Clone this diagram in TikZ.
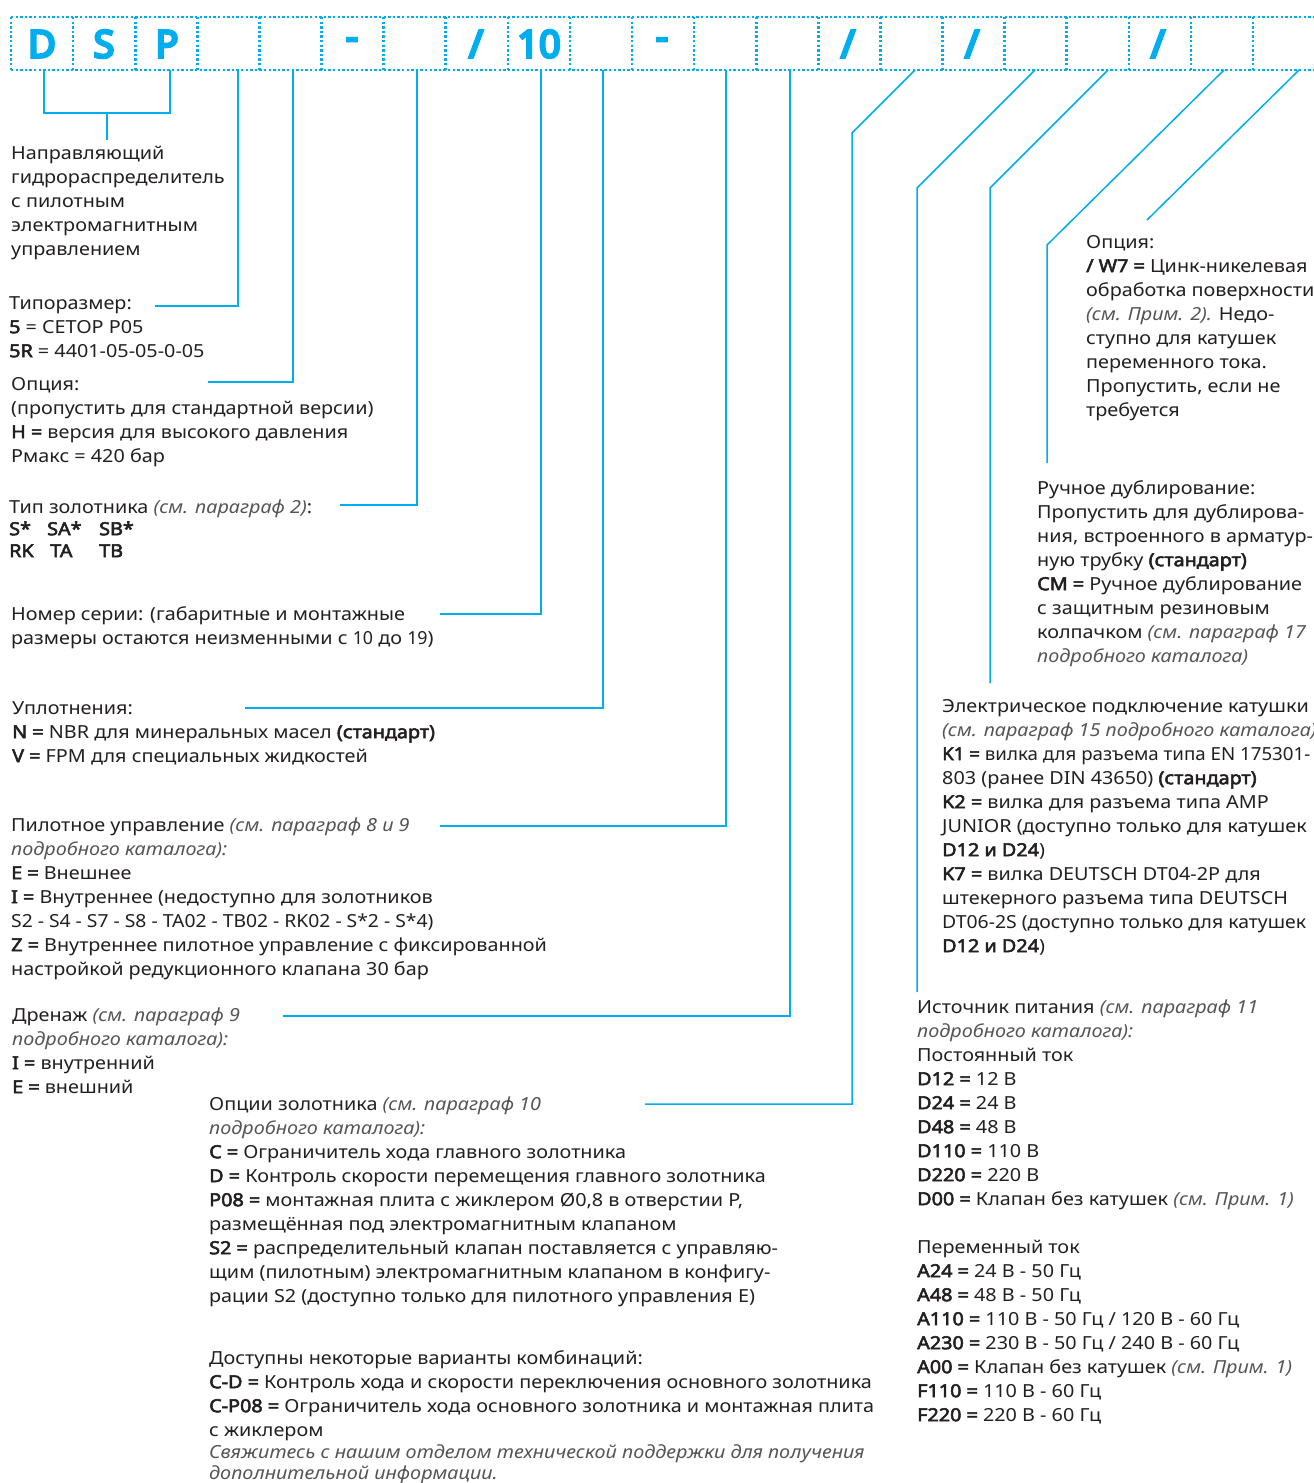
\documentclass[tikz,border=0pt]{standalone}
\usepackage{graphicx}
\usepackage{fontspec}
\setmainfont{Noto Sans}[FakeStretch=1.1, AutoFakeBold=3]
\newfontfamily\hdrfont{Noto Sans}[FakeBold=7]
\definecolor{cy}{HTML}{00AEEF}
\definecolor{tx}{HTML}{231F20}
\definecolor{itc}{HTML}{555555}
\newcommand\myb[1]{\textbf{#1}}
\newcommand\myi[1]{{\color{itc}\itshape #1}}
\newcommand\fst{\rule{0pt}{16pt}}
\tikzset{
  conn/.style={draw=cy, line width=1.5pt},
  dotl/.style={draw=cy, line width=2.6pt, dash pattern=on 2.4pt off 2.2pt},
  hdr/.style={text=cy, font=\hdrfont\fontsize{38}{40}\selectfont, inner sep=0},
  txt/.style={anchor=north west, inner sep=0, align=left, text=tx, font=\fontsize{18}{24}\selectfont},
}
\begin{document}
\begin{tikzpicture}[x=1pt,y=-1pt]
\useasboundingbox (0,0) rectangle (1314,1483);
% header dotted boxes
\draw[dotl] (11,17) -- (1314,17);
\draw[dotl] (11,70) -- (1314,70);
\foreach \k in {0,...,20} \draw[dotl] ({11+62.1*\k},17) -- ({11+62.1*\k},70);
% header characters
\node[hdr] (hD) at (42,44) {D};
\node[hdr] (hS) at (104,44) {S};
\node[hdr] (hP) at (167,44) {P};
\node[hdr] (hd1) at (352,44) {-};
\node[hdr] (hs1) at (476,44) {/};
\node[hdr] (h10) at (539,44) {10};
\node[hdr] (hd2) at (662,44) {-};
\node[hdr] (hs2) at (848,44) {/};
\node[hdr] (hs3) at (972,44) {/};
\node[hdr] (hs4) at (1158,44) {/};
% connector coordinates
\coordinate (cD) at (44,70);
\coordinate (cP) at (170,70);
\coordinate (br) at (107,113);
\coordinate (brE) at (107,140);
\coordinate (t3) at (238,70);  \coordinate (e3) at (155,306);
\coordinate (t4) at (293,70);  \coordinate (e4) at (208,382);
\coordinate (t6) at (417,70);  \coordinate (e6) at (340,505);
\coordinate (t8) at (541,70);  \coordinate (e8) at (440,614);
\coordinate (t9) at (603,70);  \coordinate (e9) at (245,708);
\coordinate (t11) at (726,70); \coordinate (e11) at (440,826);
\coordinate (t12) at (790,70); \coordinate (e12) at (283,1016);
\coordinate (t14) at (915,70); \coordinate (k14) at (852,133); \coordinate (e14) at (645,1104);
\coordinate (t16) at (1035,70); \coordinate (k16) at (917,188); \coordinate (e16) at (917,992);
\coordinate (t17) at (1108,70); \coordinate (k17) at (990,188); \coordinate (e17) at (990,683);
\coordinate (t19) at (1224,70); \coordinate (k19) at (1047,245); \coordinate (e19) at (1047,463);
\coordinate (t20) at (1299,70); \coordinate (e20) at (1147,220);
% connectors
\draw[conn] (cD) |- (br) -| (cP);
\draw[conn] (br) -- (brE);
\draw[conn] (t3) |- (e3);
\draw[conn] (t4) |- (e4);
\draw[conn] (t6) |- (e6);
\draw[conn] (t8) |- (e8);
\draw[conn] (t9) |- (e9);
\draw[conn] (t11) |- (e11);
\draw[conn] (t12) |- (e12);
\draw[conn] (t14) -- (k14) |- (e14);
\draw[conn] (t16) -- (k16) -- (e16);
\draw[conn] (t17) -- (k17) -- (e17);
\draw[conn] (t19) -- (k19) -- (e19);
\draw[conn] (t20) -- (e20);
% text blocks
\node[txt] (A) at (11,143) {\fst Направляющий\\гидрораспределитель\\с пилотным\\электромагнитным\\управлением};
\node[txt] (B) at (9,293) {\fst Типоразмер:\\\myb{5} = CETOP P05\\\myb{5R} = 4401-05-05-0-05};
\node[txt] (C) at (11,374) {\fst Опция:\\(пропустить для стандартной версии)\\\myb{H =} версия для высокого давления\\Рмакс = 420 бар};
\node[txt] (D) at (9,497) {\fst Тип золотника \myi{(см. параграф 2)}:\\[-2pt]\makebox[38pt][l]{\myb{S*}}\makebox[52pt][l]{\myb{SA*}}\myb{SB*}\\[-2pt]\makebox[41pt][l]{\myb{RK}}\makebox[49pt][l]{\myb{TA}}\myb{TB}};
\node[txt] (E) at (11,604) {\fst Номер серии: (габаритные и монтажные\\размеры остаются неизменными с \scalebox{0.9}[1]{10} до \scalebox{0.9}[1]{19})};
\node[txt] (F) at (12,698) {\fst Уплотнения:\\\myb{N =} NBR для минеральных масел \myb{(стандарт)}\\\myb{V =} FPM для специальных жидкостей};
\node[txt] (G) at (11,815) {\fst Пилотное управление \myi{(см. параграф 8 и 9}\\\myi{подробного каталога):}\\\myb{E =} Внешнее\\\myb{I =} Внутреннее (недоступно для золотников\\\scalebox{0.975}[1]{S2 - S4 - S7 - S8 - TA02 - TB02 - RK02 - S*2 - S*4)}\\\myb{Z =} Внутреннее пилотное управление с фиксированной\\настройкой редукционного клапана 30 бар};
\node[txt] (H) at (12,1005) {\fst Дренаж \myi{(см. параграф 9}\\\myi{подробного каталога):}\\\myb{I =} внутренний\\\myb{E =} внешний};
\node[txt] (I) at (209,1094) {\fst Опции золотника \myi{(см. параграф 10}\\\myi{подробного каталога):}\\\myb{C =} Ограничитель хода главного золотника\\\myb{D =} Контроль скорости перемещения главного золотника\\\myb{P08 =} монтажная плита с жиклером Ø0,8 в отверстии P,\\размещённая под электромагнитным клапаном\\\myb{S2 =} распределительный клапан поставляется с управляю-\\щим (пилотным) электромагнитным клапаном в конфигу-\\рации S2 (доступно только для пилотного управления E)};
\node[txt] (I2) at (209,1348) {\fst Доступны некоторые варианты комбинаций:\\\myb{C-D =} Контроль хода и скорости переключения основного золотника\\\myb{C-P08 =} Ограничитель хода основного золотника и монтажная плита\\с жиклером\\[-2pt]\myi{Свяжитесь с нашим отделом технической поддержки для получения}\\[-3pt]\myi{дополнительной информации.}};
\node[txt] (J) at (917,997) {\fst Источник питания \myi{(см. параграф 11}\\\myi{подробного каталога):}\\Постоянный ток\\\myb{D12 =} 12 В\\\myb{D24 =} 24 В\\\myb{D48 =} 48 В\\\myb{D110 =} 110 В\\\myb{D220 =} 220 В\\\myb{D00 =} Клапан без катушек \myi{(см. Прим. 1)}\\[24pt]Переменный ток\\\myb{A24 =} 24 В - 50 Гц\\\myb{A48 =} 48 В - 50 Гц\\\myb{A110 =} 110 В - 50 Гц / 120 В - 60 Гц\\\myb{A230 =} 230 В - 50 Гц / 240 В - 60 Гц\\\myb{A00 =} Клапан без катушек \myi{(см. Прим. 1)}\\\myb{F110 =} 110 В - 60 Гц\\\myb{F220 =} 220 В - 60 Гц};
\node[txt] (K) at (942,696) {\fst Электрическое подключение катушки\\\myi{(см. параграф 15 подробного каталога)}\\\scalebox{0.945}[1]{\myb{K1 =} вилка для разъема типа EN 175301-}\\803 (ранее DIN 43650) \myb{(стандарт)}\\\myb{K2 =} вилка для разъема типа AMP\\JUNIOR (доступно только для катушек\\\myb{D12 и D24})\\\myb{K7 =} вилка DEUTSCH DT04-2P для\\штекерного разъема типа DEUTSCH\\\scalebox{0.98}[1]{DT06-2S (доступно только для катушек}\\\myb{D12 и D24})};
\node[txt] (L) at (1037,478) {\fst Ручное дублирование:\\Пропустить для дублирова-\\ния, встроенного в арматур-\\ную трубку \myb{(стандарт)}\\\myb{CM =} Ручное дублирование\\с защитным резиновым\\колпачком \myi{(см. параграф 17}\\\myi{подробного каталога)}};
\node[txt] (M) at (1086,232) {\fst Опция:\\\myb{/ W7 =} Цинк-никелевая\\обработка поверхности\\\myi{(см. Прим. 2).} Недо-\\ступно для катушек\\переменного тока.\\Пропустить, если не\\требуется};
\end{tikzpicture}
\end{document}
